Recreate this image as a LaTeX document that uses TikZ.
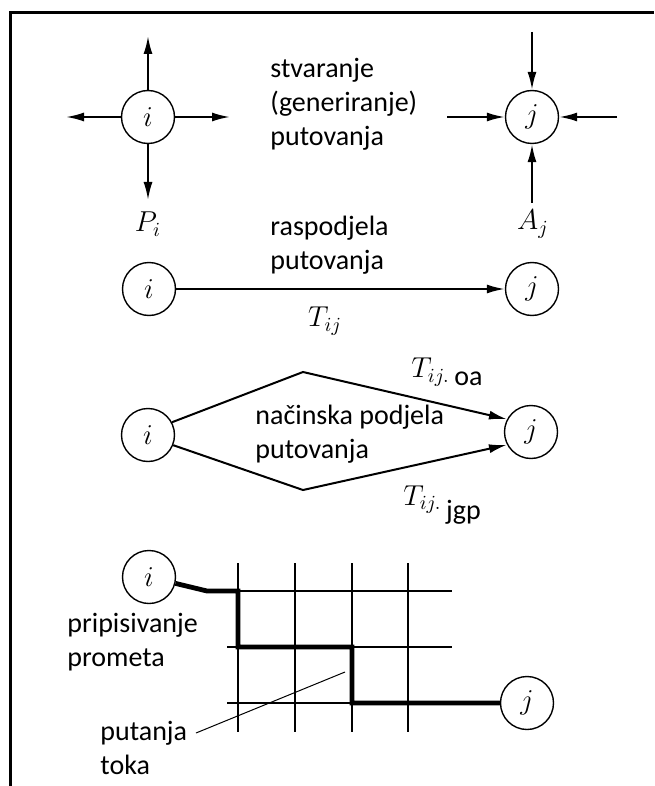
\documentclass[tikz,border=0pt]{standalone}
\usepackage{fontspec}
\setmainfont{Carlito}
\usetikzlibrary{arrows.meta}

\begin{document}
\begin{tikzpicture}[x=0.5pt,y=-0.5pt,>={Latex[length=9pt,width=4.5pt]},
    zone/.style={draw,circle,minimum size=26.5pt,inner sep=0pt,line width=0.7pt,
                 font=\fontsize{14}{16}\selectfont},
    flow/.style={->,line width=1pt},
    lbl/.style={font=\fontsize{14}{17}\selectfont,align=left,anchor=west,inner sep=0pt},
    mlbl/.style={font=\fontsize{14}{16}\selectfont,inner sep=0pt},
    gridline/.style={line width=0.6pt},
    route/.style={line width=2.4pt}]
    \useasboundingbox (0,0) rectangle (654,786);

    % Frame (open at right and bottom)
    \draw[line width=1.5pt] (10,786) -- (10,13) -- (654,13);

    % Trip generation
    \node[zone] (i1) at (148,117) {$i$};
    \node[zone] (j1) at (532,117) {$j$};
    \coordinate (iN) at (148,36);
    \coordinate (iS) at (148,200);
    \coordinate (iW) at (66,117);
    \coordinate (iE) at (230,117);
    \coordinate (jN) at (532,32);
    \coordinate (jS) at (532,203);
    \coordinate (jW) at (447,117);
    \coordinate (jE) at (617,117);
    \foreach \n in {iN,iS,iW,iE} \draw[flow] (i1) -- (\n);
    \foreach \n in {jN,jS,jW,jE} \draw[flow] (\n) -- (j1);
    \node[mlbl] (Pi) at (148,224) {$P_i$};
    \node[mlbl] (Aj) at (533,224) {$A_j$};
    \node[lbl] (gen) at (270,104) {stvaranje\\(generiranje)\\putovanja};

    % Trip distribution
    \node[lbl] (dist) at (270,245) {raspodjela\\putovanja};
    \node[zone] (i2) at (149,289) {$i$};
    \node[zone] (j2) at (532,289) {$j$};
    \draw[flow] (i2) -- (j2);
    \node[mlbl] (Tij) at (325,321) {$T_{ij}$};

    % Modal split
    \node[zone] (i3) at (148,435) {$i$};
    \node[zone] (j3) at (531,432) {$j$};
    \coordinate (up) at (303,372);
    \coordinate (dn) at (303,490);
    \draw[flow] (i3.28) -- (up) -- (j3.152);
    \draw[flow] (i3.-22) -- (dn) -- (j3.208);
    \node[lbl] (modal) at (255,434) {načinska podjela\\putovanja};
    \node[mlbl] (Toa) at (447,372) {$T_{ij.}$\,\raisebox{-4pt}{\fontsize{14}{17}\selectfont oa}};
    \node[mlbl] (Tjgp) at (442,505) {$T_{ij.}$\,\raisebox{-7pt}{\fontsize{14}{17}\selectfont jgp}};

    % Traffic assignment
    \foreach \x in {238,295,352,408} \draw[gridline] (\x,563) -- (\x,732);
    \foreach \y in {591,647,703} \draw[gridline] (227,\y) -- (452,\y);
    \node[zone,fill=white] (i4) at (149,577) {$i$};
    \node[zone,fill=white] (j4) at (527,703) {$j$};
    \draw[route] (i4) -- (207,591) -- (238,591) -- (238,647)
                 -- (352,647) -- (352,703) -- (j4);
    \node[lbl] (assign) at (67,642) {pripisivanje\\prometa};
    \node[lbl] (path) at (100,748) {putanja\\toka};
    \coordinate (lead) at (196,733);
    \coordinate (leadtip) at (345,672);
    \draw[line width=0.5pt] (lead) -- (leadtip);

\end{tikzpicture}
\end{document}
